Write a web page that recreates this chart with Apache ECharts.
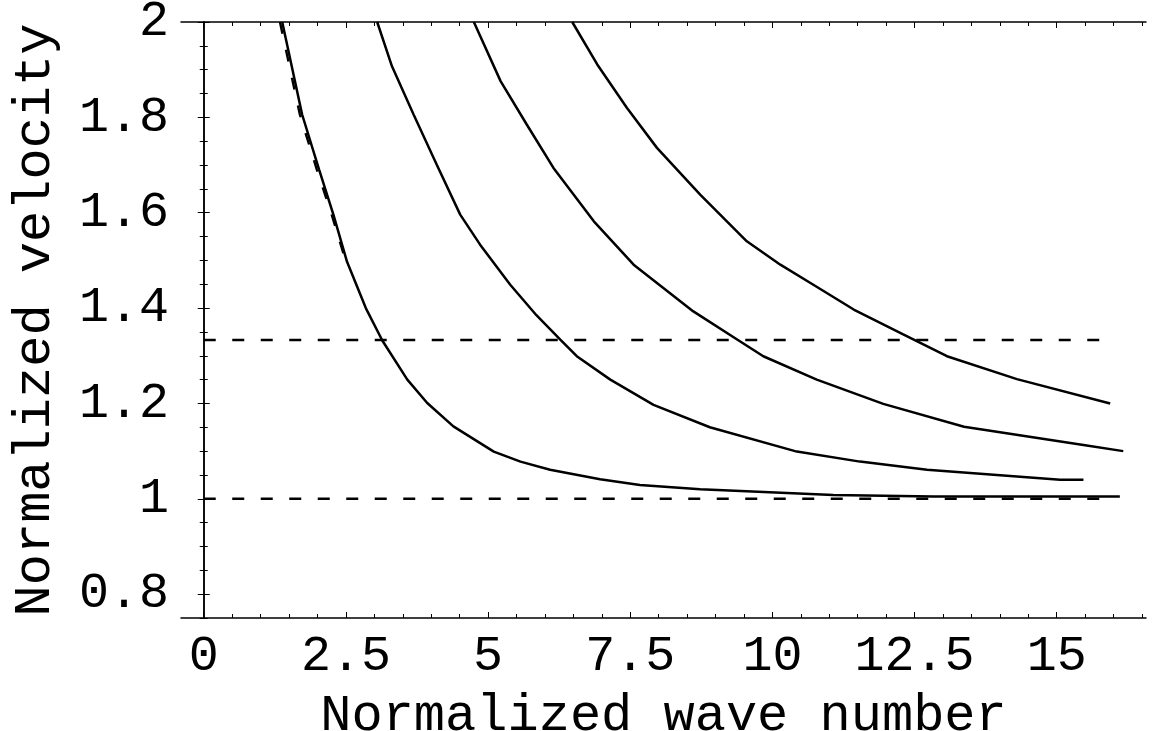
<!DOCTYPE html>
<html>
<head>
<meta charset="utf-8">
<script src="https://cdn.jsdelivr.net/npm/echarts@6/dist/echarts.min.js"></script>
<style>
html,body{margin:0;padding:0;background:#fff;}
#chart{width:1156px;height:731px;}
</style>
</head>
<body>
<div id="chart"></div>
<script>
// ---- data ----
const xMajorTicks = [0, 2.5, 5, 7.5, 10, 12.5, 15];
const xTickLabels = ['0', '2.5', '5', '7.5', '10', '12.5', '15'];
const yMajorTicks = [0.8, 1, 1.2, 1.4, 1.6, 1.8, 2];
const yTickLabels = ['0.8', '1', '1.2', '1.4', '1.6', '1.8', '2'];

const mode1 = [[1.38,2.0],[1.73,1.806],[2.03,1.69],[2.28,1.596],[2.52,1.497],[2.85,1.40],[3.14,1.332],[3.58,1.250],[3.93,1.201],[4.39,1.152],[5.10,1.099],[5.57,1.078],[6.09,1.061],[6.97,1.041],[7.67,1.029],[8.73,1.020],[11.07,1.008],[12.83,1.005],[16.11,1.005]];
const mode1Dashed = [[1.34,2.0],[1.69,1.806],[1.99,1.69],[2.25,1.596],[2.50,1.497]];
const mode2 = [[3.05,2.0],[3.31,1.907],[3.69,1.806],[4.10,1.70],[4.51,1.596],[4.86,1.533],[5.39,1.449],[5.85,1.385],[6.27,1.334],[6.56,1.299],[7.15,1.250],[7.91,1.197],[8.90,1.150],[10.43,1.099],[11.54,1.078],[12.72,1.061],[15.06,1.040],[15.47,1.040]];
const mode3 = [[4.75,2.0],[5.22,1.876],[5.68,1.785],[6.15,1.694],[6.86,1.582],[7.56,1.491],[8.61,1.393],[9.38,1.334],[9.84,1.299],[10.78,1.250],[11.95,1.199],[13.37,1.151],[15.47,1.113],[16.17,1.100]];
const mode4 = [[6.48,2.0],[6.92,1.911],[7.44,1.820],[7.97,1.736],[8.73,1.638],[9.55,1.540],[10.14,1.491],[10.72,1.449],[11.43,1.397],[12.30,1.345],[13.07,1.299],[14.30,1.251],[15.94,1.200]];
const refLevelHigh = [[0,1.333],[16,1.333]];
const refLevelLow = [[0,1.0],[16,1.0]];

// ---- helpers ----
function range(a, b, step) { const r = []; for (let v = a; v <= b + 1e-9; v += step) r.push(+v.toFixed(4)); return r; }
const xMinor = range(0, 16.5, 0.5).filter(v => xMajorTicks.indexOf(v) < 0);
const yMinor = range(0.75, 2, 0.05).filter(v => !yMajorTicks.some(t => Math.abs(t - v) < 1e-6));

const XMIN = -0.4, XMAX = 16.57, YMIN = 0.75, YMAX = 2.0;
const FONT = '"Liberation Mono", "Courier New", monospace';
const frame = {show: true, lineStyle: {color: '#000', width: 1.5}};

function xAx(pos, ticks, len, labels, line) {
  return {
    type: 'value', position: pos, min: XMIN, max: XMAX,
    splitLine: {show: false},
    axisLine: line ? frame : {show: false},
    axisTick: {show: true, inside: true, length: len, customValues: ticks, lineStyle: {color: '#000', width: 1}},
    axisLabel: labels ? {show: true, customValues: ticks, margin: 14, fontFamily: FONT, fontSize: 50, color: '#000',
      formatter: v => { const i = xMajorTicks.findIndex(t => Math.abs(t - v) < 1e-6); return i >= 0 ? xTickLabels[i] : ''; }} : {show: false},
    name: labels ? 'Normalized wave number' : '', nameLocation: 'middle', nameGap: 72,
    nameTextStyle: {fontFamily: FONT, fontSize: 52, color: '#000'}
  };
}
function yAx(pos, ticks, len, labels, line) {
  return {
    type: 'value', position: pos, min: YMIN, max: YMAX,
    splitLine: {show: false},
    axisLine: line ? frame : {show: false},
    axisTick: {show: true, inside: true, length: len, customValues: ticks, lineStyle: {color: '#000', width: 1}},
    axisLabel: labels ? {show: true, customValues: ticks, margin: 12, fontFamily: FONT, fontSize: 50, color: '#000',
      formatter: v => { const i = yMajorTicks.findIndex(t => Math.abs(t - v) < 1e-6); return i >= 0 ? yTickLabels[i] : ''; }} : {show: false},
    name: labels ? 'Normalized velocity' : '', nameLocation: 'middle', nameGap: 120,
    nameTextStyle: {fontFamily: FONT, fontSize: 52, color: '#000'}
  };
}

function curve(data, dashed) {
  return {
    type: 'line', data: data, xAxisIndex: 0, yAxisIndex: 0,
    showSymbol: false, smooth: false, silent: true, clip: true,
    lineStyle: {color: '#000', width: dashed ? 2.4 : 2.5, type: dashed ? [12, 16.5] : 'solid'},
    z: dashed ? 2 : 3
  };
}

const chart = echarts.init(document.getElementById('chart'), null, {renderer: 'canvas'});
chart.setOption({
  animation: false,
  backgroundColor: '#fff',
  grid: {left: 181, right: 10, top: 22, bottom: 113, containLabel: false, outerBoundsMode: 'none'},
  xAxis: [
    xAx('bottom', xMajorTicks, 6, true, true),
    xAx('bottom', xMinor, 4, false, false),
    xAx('top', xMajorTicks, 6, false, true),
    xAx('top', xMinor, 4, false, false)
  ],
  yAxis: [
    yAx('left', yMajorTicks, 6, true, true),
    yAx('left', yMinor, 4, false, false),
    yAx('right', yMajorTicks, 6, false, true),
    yAx('right', yMinor, 4, false, false)
  ],
  series: [
    curve(refLevelHigh, true),
    curve(refLevelLow, true),
    curve(mode1Dashed, true),
    curve(mode1, false),
    curve(mode2, false),
    curve(mode3, false),
    curve(mode4, false)
  ]
});
</script>
</body>
</html>
